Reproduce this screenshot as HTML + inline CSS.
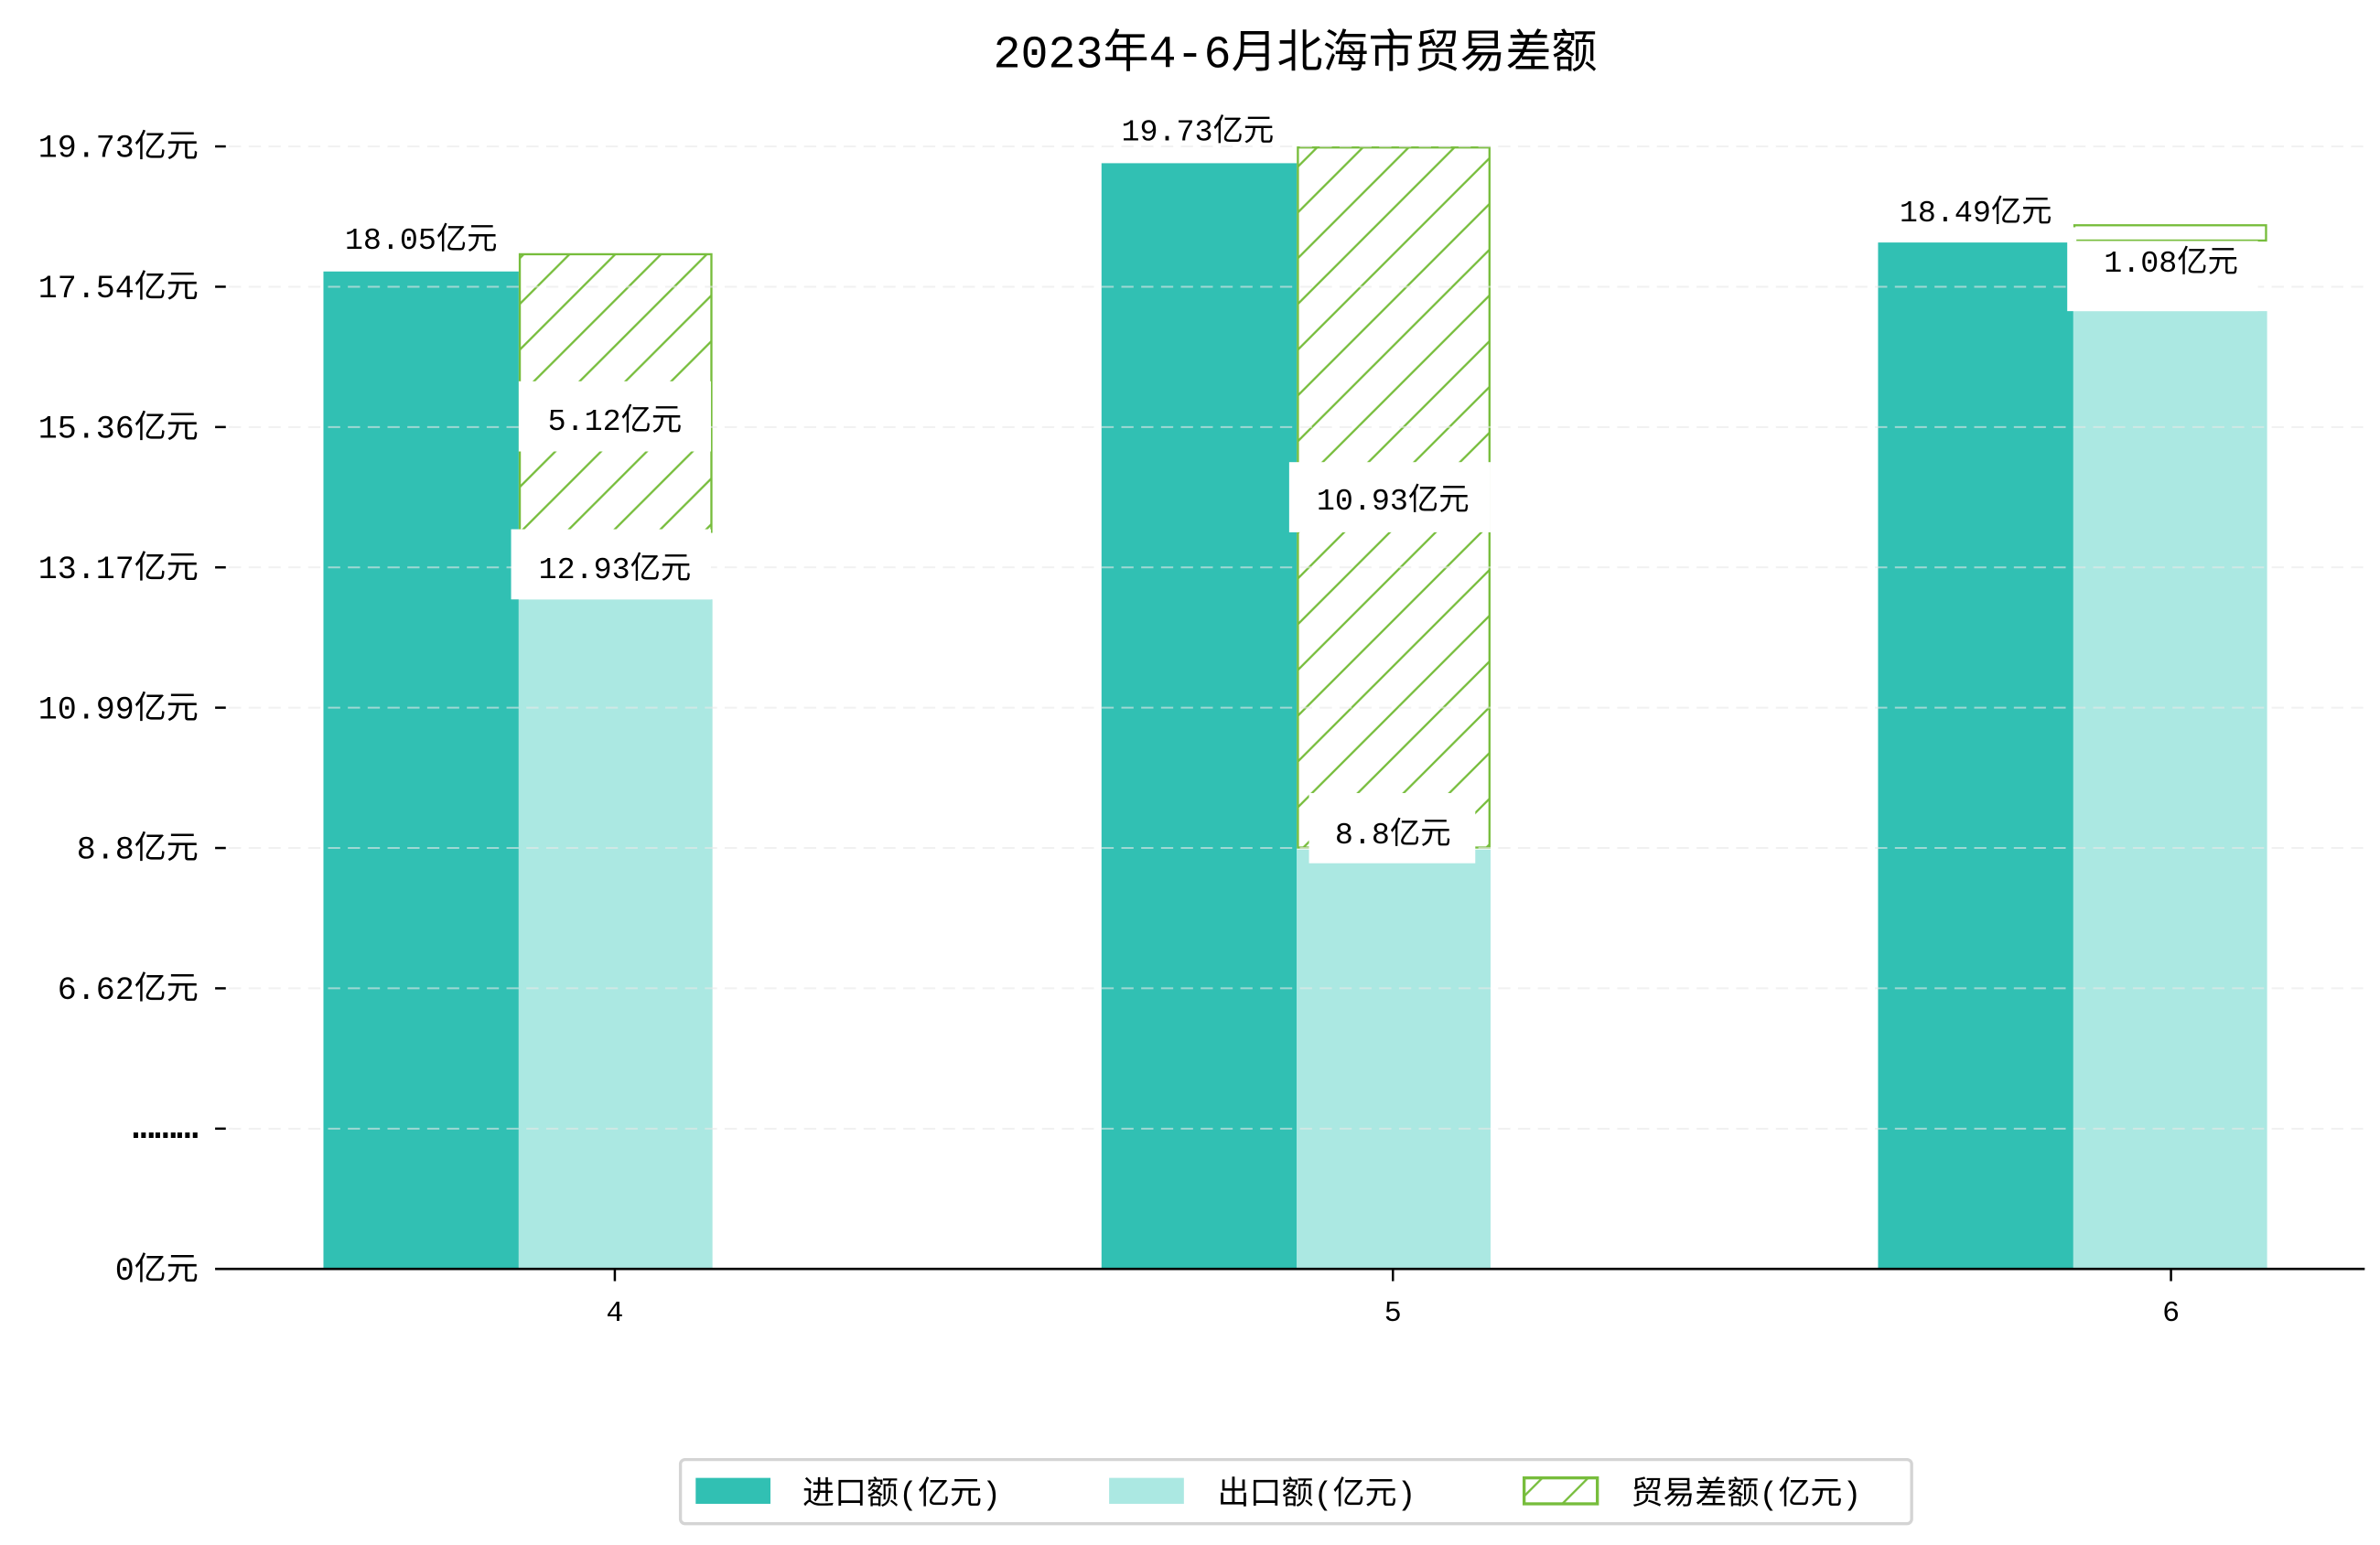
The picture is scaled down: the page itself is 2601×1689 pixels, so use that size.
<!DOCTYPE html>
<html><head><meta charset="utf-8"><style>
html,body{margin:0;padding:0;background:#fff;}
svg{display:block;}
text{font-family:"Liberation Mono","Noto Sans CJK SC",monospace;fill:#000;}
</style></head><body>
<svg width="2601" height="1689" viewBox="0 0 1560 1013" preserveAspectRatio="none" xmlns="http://www.w3.org/2000/svg">
<defs>
<pattern id="h" patternUnits="userSpaceOnUse" width="30" height="30">
<path d="M-5,5 L5,-5 M0,30 L30,0 M25,35 L35,25" stroke="#77bd3c" stroke-width="1.4"/>
</pattern>
</defs>
<rect width="1560" height="1013" fill="#fff"/>
<text x="849" y="44" font-size="30" text-anchor="middle">2023年4-6月北海市贸易差额</text>

<rect x="212" y="178" width="128" height="654" fill="#31c0b3"/>
<rect x="340" y="393" width="127" height="439" fill="#abe8e2"/>
<rect x="340.7" y="166.7" width="125.6" height="182" fill="url(#h)" stroke="#77bd3c" stroke-width="1.4"/>
<rect x="722" y="107" width="128" height="725" fill="#31c0b3"/>
<rect x="850" y="557" width="127" height="275" fill="#abe8e2"/>
<rect x="850.7" y="96.7" width="125.6" height="459" fill="url(#h)" stroke="#77bd3c" stroke-width="1.4"/>
<rect x="1231" y="159" width="128" height="673" fill="#31c0b3"/>
<rect x="1359" y="204" width="127" height="628" fill="#abe8e2"/>
<rect x="1359.7" y="147.7" width="125.6" height="10" fill="#fff" stroke="#77bd3c" stroke-width="1.4"/>

<g stroke="#e8e8e8" stroke-opacity="0.6" stroke-width="1.2" stroke-dasharray="8,5">
<line x1="150" y1="96" x2="1550" y2="96"/><line x1="150" y1="188" x2="1550" y2="188"/>
<line x1="150" y1="280" x2="1550" y2="280"/><line x1="150" y1="372" x2="1550" y2="372"/>
<line x1="150" y1="464" x2="1550" y2="464"/><line x1="150" y1="556" x2="1550" y2="556"/>
<line x1="150" y1="648" x2="1550" y2="648"/><line x1="150" y1="740" x2="1550" y2="740"/>
</g>

<rect x="340" y="250" width="126" height="46" fill="#fff"/>
<rect x="335" y="347" width="131" height="46" fill="#fff"/>
<rect x="845" y="303" width="132" height="46" fill="#fff"/>
<rect x="858" y="520" width="109" height="46" fill="#fff"/>
<rect x="1355" y="158" width="125" height="46" fill="#fff"/>
<rect x="1355" y="149" width="6" height="9" fill="#fff"/>

<g font-size="20" text-anchor="middle">
<text x="276" y="163">18.05亿元</text>
<text x="403" y="282">5.12亿元</text>
<text x="403" y="379">12.93亿元</text>
<text x="785" y="92">19.73亿元</text>
<text x="913" y="334">10.93亿元</text>
<text x="913" y="553">8.8亿元</text>
<text x="1295" y="145">18.49亿元</text>
<text x="1423" y="178">1.08亿元</text>
</g>

<line x1="141" y1="832" x2="1550" y2="832" stroke="#000" stroke-width="1.6"/>
<g stroke="#000" stroke-width="1.5">
<line x1="141" y1="96" x2="148" y2="96"/><line x1="141" y1="188" x2="148" y2="188"/>
<line x1="141" y1="280" x2="148" y2="280"/><line x1="141" y1="372" x2="148" y2="372"/>
<line x1="141" y1="464" x2="148" y2="464"/><line x1="141" y1="556" x2="148" y2="556"/>
<line x1="141" y1="648" x2="148" y2="648"/><line x1="141" y1="740" x2="148" y2="740"/>
<line x1="403" y1="832" x2="403" y2="840"/><line x1="913" y1="832" x2="913" y2="840"/><line x1="1423" y1="832" x2="1423" y2="840"/>
</g>
<g font-size="21" text-anchor="end">
<text x="130" y="103">19.73亿元</text>
<text x="130" y="195">17.54亿元</text>
<text x="130" y="287">15.36亿元</text>
<text x="130" y="379">13.17亿元</text>
<text x="130" y="471">10.99亿元</text>
<text x="130" y="563">8.8亿元</text>
<text x="130" y="655">6.62亿元</text>
<text x="130" y="746" font-family="Liberation Sans" font-size="24" font-weight="bold">………</text>
<text x="130" y="839">0亿元</text>
</g>
<g font-size="19" text-anchor="middle">
<text x="403" y="866">4</text><text x="913" y="866">5</text><text x="1423" y="866">6</text>
</g>

<rect x="446" y="957" width="807" height="42" rx="3" fill="#fff" stroke="#d4d4d4" stroke-width="2"/>
<rect x="456" y="969" width="49" height="17" fill="#31c0b3"/>
<rect x="727" y="969" width="49" height="17" fill="#abe8e2"/>
<rect x="999" y="969" width="48" height="17" fill="url(#h)" stroke="#77bd3c" stroke-width="2"/>
<g font-size="21">
<text x="526" y="986">进口额(亿元)</text>
<text x="798" y="986">出口额(亿元)</text>
<text x="1069" y="986">贸易差额(亿元)</text>
</g>
</svg>
</body></html>
